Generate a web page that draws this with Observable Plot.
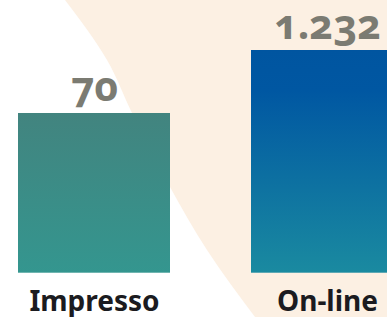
<!DOCTYPE html>
<html>
<head>
<meta charset="utf-8">
<script src="https://cdn.jsdelivr.net/npm/d3@7"></script>
<script src="https://cdn.jsdelivr.net/npm/@observablehq/plot@0.6"></script>
<style>
  html, body { margin: 0; padding: 0; background: #ffffff; }
  #wrap { position: relative; width: 387px; height: 317px; overflow: hidden; }
  #bg { position: absolute; left: 0; top: 0; }
  #chart { position: absolute; left: 0; top: 0; }
  #chart svg { background: transparent; overflow: hidden; }
  .vals text { font-variant-numeric: oldstyle-nums; }
</style>
</head>
<body>
<div id="wrap">
  <svg id="bg" width="387" height="317"></svg>
  <div id="chart"></div>
</div>
<script>
// ---- data ----
const categories = ["Impresso", "On-line"];
const values = [70, 1232];
const valueLabels = ["70", "1.232"];

const data = categories.map((c, i) => ({category: c, value: values[i], label: valueLabels[i]}));

// ---- decorative background sweep (page styling, not data) ----
const sweep = [[65,0],[107,60],[132,113],[170,187],[207,250],[255,317]];
const edge = d3.line().curve(d3.curveMonotoneY)(sweep);
d3.select("#bg").append("path")
  .attr("d", edge + "L387,317L387,0Z")
  .attr("fill", "#fcf0e3");

const baseValue = 0.0487;

const defs = () => {
  const g = d3.create("svg:defs");
  const a = g.append("linearGradient").attr("id", "gImp").attr("x1", 0).attr("y1", 0).attr("x2", 0).attr("y2", 1);
  a.append("stop").attr("offset", "0%").attr("stop-color", "#42847f");
  a.append("stop").attr("offset", "100%").attr("stop-color", "#34968f");
  const b = g.append("linearGradient").attr("id", "gOn").attr("x1", 0).attr("y1", 0).attr("x2", 0).attr("y2", 1);
  b.append("stop").attr("offset", "0%").attr("stop-color", "#0055a0");
  b.append("stop").attr("offset", "18%").attr("stop-color", "#0057a2");
  b.append("stop").attr("offset", "100%").attr("stop-color", "#1a8aa0");
  return g.node();
};

const font = "'Noto Sans', 'Open Sans', sans-serif";

const chart = Plot.plot({
  width: 387,
  height: 317,
  marginTop: 50,
  marginBottom: 44.3,
  marginLeft: 0,
  marginRight: 0,
  style: {background: "transparent", fontFamily: font},
  x: {domain: categories, range: [18, 403], paddingInner: 0.348, paddingOuter: 0, axis: null},
  y: {type: "log", domain: [baseValue, 1232], axis: null},
  marks: [
    defs,
    Plot.rectY(data, {filter: d => d.category === "Impresso", x: "category", y1: () => baseValue, y2: "value", fill: "url(#gImp)"}),
    Plot.rectY(data, {filter: d => d.category === "On-line", x: "category", y1: () => baseValue, y2: "value", fill: "url(#gOn)"}),
    Plot.text(data, {
      x: "category", y: "value", text: "label",
      lineAnchor: "bottom", dy: -12,
      fontSize: 41, fontWeight: "bold", fill: "#7b7b72",
      className: "vals"
    }),
    Plot.text(data, {
      x: "category", text: "category",
      frameAnchor: "bottom", lineAnchor: "top", dy: 18,
      fontSize: 28, fontWeight: "bold", fill: "#1b1b20"
    })
  ]
});
document.getElementById("chart").appendChild(chart);
</script>
</body>
</html>
